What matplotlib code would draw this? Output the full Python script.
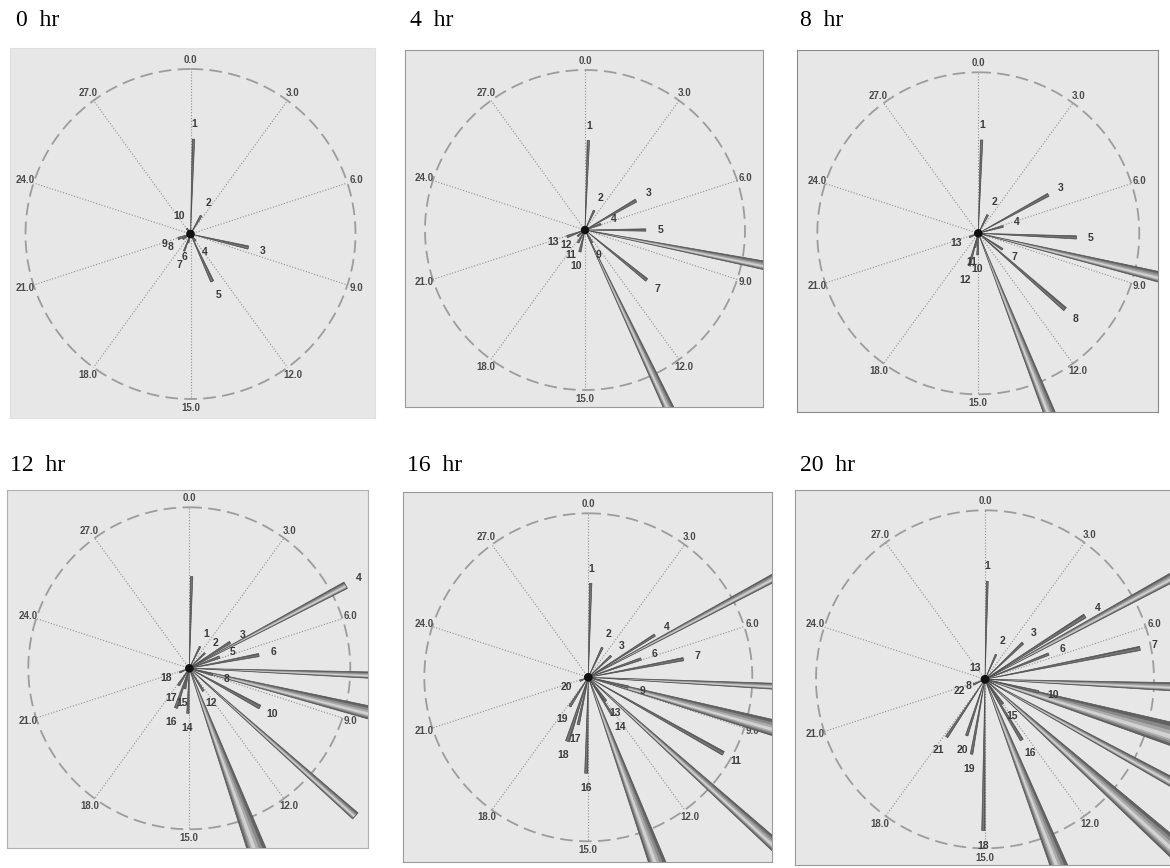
import numpy as np
import matplotlib
matplotlib.use("Agg")
import matplotlib.pyplot as plt
from matplotlib.patches import Polygon, Circle

# ---------------- data (angle in clock units 0-30, length relative to circle radius) ----------------
ring_ticks = [0.0, 3.0, 6.0, 9.0, 12.0, 15.0, 18.0, 21.0, 24.0, 27.0]

titles = ["0  hr", "4  hr", "8  hr", "12  hr", "16  hr", "20  hr"]

labels_0h = ["1", "2", "3", "4", "5", "6", "7", "8", "9", "10"]
angle_0h = [0.15, 2.5, 8.6, 11.9, 12.95, 16.2, 16.7, 19.65, 20.8, 27.2]
length_0h = [0.575, 0.128, 0.36, 0.05, 0.316, 0.055, 0.11, 0.055, 0.08, 0.04]
weight_0h = [0.015, 0.012, 0.02, 0.01, 0.02, 0.01, 0.01, 0.01, 0.015, 0.01]

labels_4h = ["1", "2", "3", "4", "5", "6", "7", "8", "9", "10", "11", "12", "13"]
angle_4h = [0.18, 2.1, 5.0, 5.8, 7.5, 8.43, 10.75, 12.9, 12.6, 16.1, 17.4, 19.2, 20.8]
length_4h = [0.56, 0.134, 0.368, 0.105, 0.38, 1.6, 0.496, 1.7, 0.09, 0.14, 0.09, 0.06, 0.12]
weight_4h = [0.015, 0.012, 0.02, 0.012, 0.015, 0.075, 0.02, 0.085, 0.012, 0.015, 0.012, 0.01, 0.015]

labels_8h = ["1", "2", "3", "4", "5", "6", "7", "8", "9", "10", "11", "12", "13"]
angle_8h = [0.17, 2.25, 5.1, 6.2, 7.7, 8.63, 10.3, 10.93, 13.2, 15.15, 16.1, 16.3, 20.6]
length_8h = [0.58, 0.128, 0.496, 0.16, 0.61, 1.6, 0.18, 0.716, 1.7, 0.134, 0.09, 0.21, 0.06]
weight_8h = [0.015, 0.012, 0.02, 0.012, 0.02, 0.09, 0.012, 0.025, 0.1, 0.012, 0.012, 0.015, 0.01]

labels_12h = ["", "1", "2", "3", "4", "5", "6", "7", "8", "9", "10", "11",
              "12", "13", "14", "15", "16", "17", "18"]
angle_12h = [0.12, 2.2, 3.8, 4.8, 5.17, 5.8, 6.6, 7.68, 8.8, 8.65, 9.9, 10.97,
             12.35, 13.3, 15.15, 16.0, 16.55, 17.7, 20.6]
length_12h = [0.57, 0.15, 0.135, 0.3, 1.1, 0.2, 0.44, 1.7, 0.15, 1.7, 0.5, 1.38,
              0.166, 1.8, 0.28, 0.13, 0.26, 0.125, 0.065]
weight_12h = [0.015, 0.01, 0.01, 0.015, 0.045, 0.015, 0.02, 0.06, 0.012, 0.12, 0.025, 0.05,
              0.012, 0.17, 0.015, 0.012, 0.02, 0.015, 0.01]

labels_16h = ["1", "2", "3", "4", "5", "6", "7", "8", "9", "10", "11", "12",
              "13", "14", "15", "16", "17", "18", "19", "20"]
angle_16h = [0.12, 2.1, 3.9, 4.8, 5.15, 5.9, 6.6, 7.73, 8.65, 8.77, 9.95, 11.0,
             11.95, 12.3, 13.3, 15.1, 16.0, 16.5, 17.7, 20.6]
length_16h = [0.573, 0.2, 0.19, 0.48, 1.7, 0.34, 0.59, 1.7, 0.25, 1.7, 0.945, 1.7,
              0.18, 0.27, 1.8, 0.585, 0.295, 0.41, 0.21, 0.055]
weight_16h = [0.015, 0.012, 0.012, 0.015, 0.065, 0.015, 0.02, 0.055, 0.015, 0.14, 0.025, 0.08,
              0.012, 0.012, 0.15, 0.02, 0.015, 0.025, 0.015, 0.01]

labels_20h = ["1", "2", "3", "4", "5", "6", "7", "9", "10", "11", "12", "13",
              "14", "15", "16", "17", "18", "19", "20", "21", "22", "8"]
angle_20h = [0.11, 2.0, 3.85, 4.8, 5.12, 5.7, 6.56, 7.69, 8.6, 8.86, 9.9, 26.5,
             10.98, 12.0, 12.4, 13.2, 15.05, 15.85, 16.5, 17.8, 20.5, 20.7]
length_20h = [0.58, 0.16, 0.31, 0.70, 1.7, 0.405, 0.935, 1.7, 0.325, 1.7, 1.7, 0.0,
              1.8, 0.18, 0.42, 1.8, 0.895, 0.45, 0.35, 0.41, 0.075, 0.015]
weight_20h = [0.012, 0.01, 0.015, 0.025, 0.075, 0.015, 0.025, 0.075, 0.015, 0.2, 0.075, 0.0,
              0.13, 0.012, 0.02, 0.15, 0.02, 0.015, 0.015, 0.015, 0.01, 0.0]

# ---------------- layout (pixels) ----------------
W, H = 1170, 868
boxes = [(10, 48, 375, 418), (405, 50, 763, 407), (797, 50, 1158, 412),
         (7, 490, 368, 848), (403, 492, 772, 862), (795, 490, 1175, 865)]
centers = [(190.5, 234.0), (585.0, 230.0), (978.3, 233.3),
           (189.3, 668.3), (588.3, 677.3), (985.0, 679.3)]
radii = [165, 160, 161, 161, 164, 169]
title_pos = [(16, 26), (410, 26), (800, 26), (10, 471), (407, 471), (800, 471)]
border_colors = ["#e0e0e0", "#9a9a9a", "#8a8a8a", "#b0b0b0", "#9a9a9a", "#9a9a9a"]

panels = [
    (labels_0h, angle_0h, length_0h, weight_0h),
    (labels_4h, angle_4h, length_4h, weight_4h),
    (labels_8h, angle_8h, length_8h, weight_8h),
    (labels_12h, angle_12h, length_12h, weight_12h),
    (labels_16h, angle_16h, length_16h, weight_16h),
    (labels_20h, angle_20h, length_20h, weight_20h),
]

fig = plt.figure(figsize=(W / 100, H / 100), dpi=100)
fig.patch.set_facecolor("white")

SANS = ["Liberation Sans", "DejaVu Sans"]


def spike(ax, ang, L, w, zbase):
    if w <= 0 or L <= 0:
        return
    a = np.radians(ang * 12.0)
    d = np.array([np.sin(a), np.cos(a)])
    p = np.array([np.cos(a), -np.sin(a)])
    tip = L * d
    layers = [(1.0, "#626262"), (0.72, "#888888"), (0.45, "#ababab"), (0.2, "#d2d2d2")]
    if w < 0.03:
        layers = [(1.0, "#5a5a5a"), (0.4, "#7a7a7a")]
    for i, (f, c) in enumerate(layers):
        ww = w * f
        off = p * (w * (1 - f) * 0.15)
        poly = Polygon([(0, 0), tip + off + ww / 2 * p, tip + off - ww / 2 * p],
                       closed=True, facecolor=c, edgecolor="none", zorder=zbase + i * 0.01)
        ax.add_patch(poly)
    ax.add_patch(Polygon([(0, 0), tip + w / 2 * p, tip - w / 2 * p], closed=True,
                         facecolor="none", edgecolor="#505050", lw=0.5, zorder=zbase + 0.05))


for k in range(6):
    x0, y0, x1, y1 = boxes[k]
    cx, cy = centers[k]
    R = radii[k]
    ax = fig.add_axes([x0 / W, 1 - y1 / H, (x1 - x0) / W, (y1 - y0) / H])
    xl = ((x0 - cx) / R, (x1 - cx) / R)
    yl = ((cy - y1) / R, (cy - y0) / R)
    ax.set_xlim(*xl)
    ax.set_ylim(*yl)
    ax.set_facecolor("#e7e7e7")
    ax.set_xticks([])
    ax.set_yticks([])
    for s in ax.spines.values():
        s.set_color(border_colors[k])
        s.set_linewidth(0.8)

    th = np.linspace(0, 2 * np.pi, 400)
    ax.plot(np.sin(th), np.cos(th), ls=(0, (7, 3.5)), color="#9c9c9c", lw=1.3, zorder=1)
    for t in ring_ticks:
        a = np.radians(t * 12.0)
        ax.plot([0, np.sin(a)], [0, np.cos(a)], ls=(0, (1, 1.6)), color="#8f8f8f", lw=0.8, zorder=1)
        ax.text(1.055 * np.sin(a), 1.055 * np.cos(a), f"{t:.1f}", ha="center", va="center",
                fontsize=7, fontweight="bold", color="#4a4a4a", family=SANS, zorder=2)

    labs, angs, lens, wts = panels[k]
    order = np.argsort(wts)[::-1]
    for n, i in enumerate(order):
        spike(ax, angs[i], lens[i], wts[i], 3 + n * 0.1)
    ax.add_patch(Circle((0, 0), 0.022, color="#111111", zorder=10))

    mx = 0.04
    for i in range(len(labs)):
        if not labs[i]:
            continue
        a = np.radians(angs[i] * 12.0)
        r = lens[i] + 0.09
        lx, ly = r * np.sin(a), r * np.cos(a)
        if not (xl[0] + mx < lx < xl[1] - mx and yl[0] + mx < ly < yl[1] - mx):
            continue
        ax.text(lx, ly, labs[i], ha="center", va="center", fontsize=7.5, fontweight="bold",
                color="#3a3a3a", family=SANS, zorder=12)

    tx, ty = title_pos[k]
    fig.text(tx / W, 1 - ty / H, titles[k], ha="left", va="baseline", fontsize=17,
             family=["Liberation Serif", "DejaVu Serif"], color="black")

fig.savefig("out.png", dpi=100, facecolor="white")
